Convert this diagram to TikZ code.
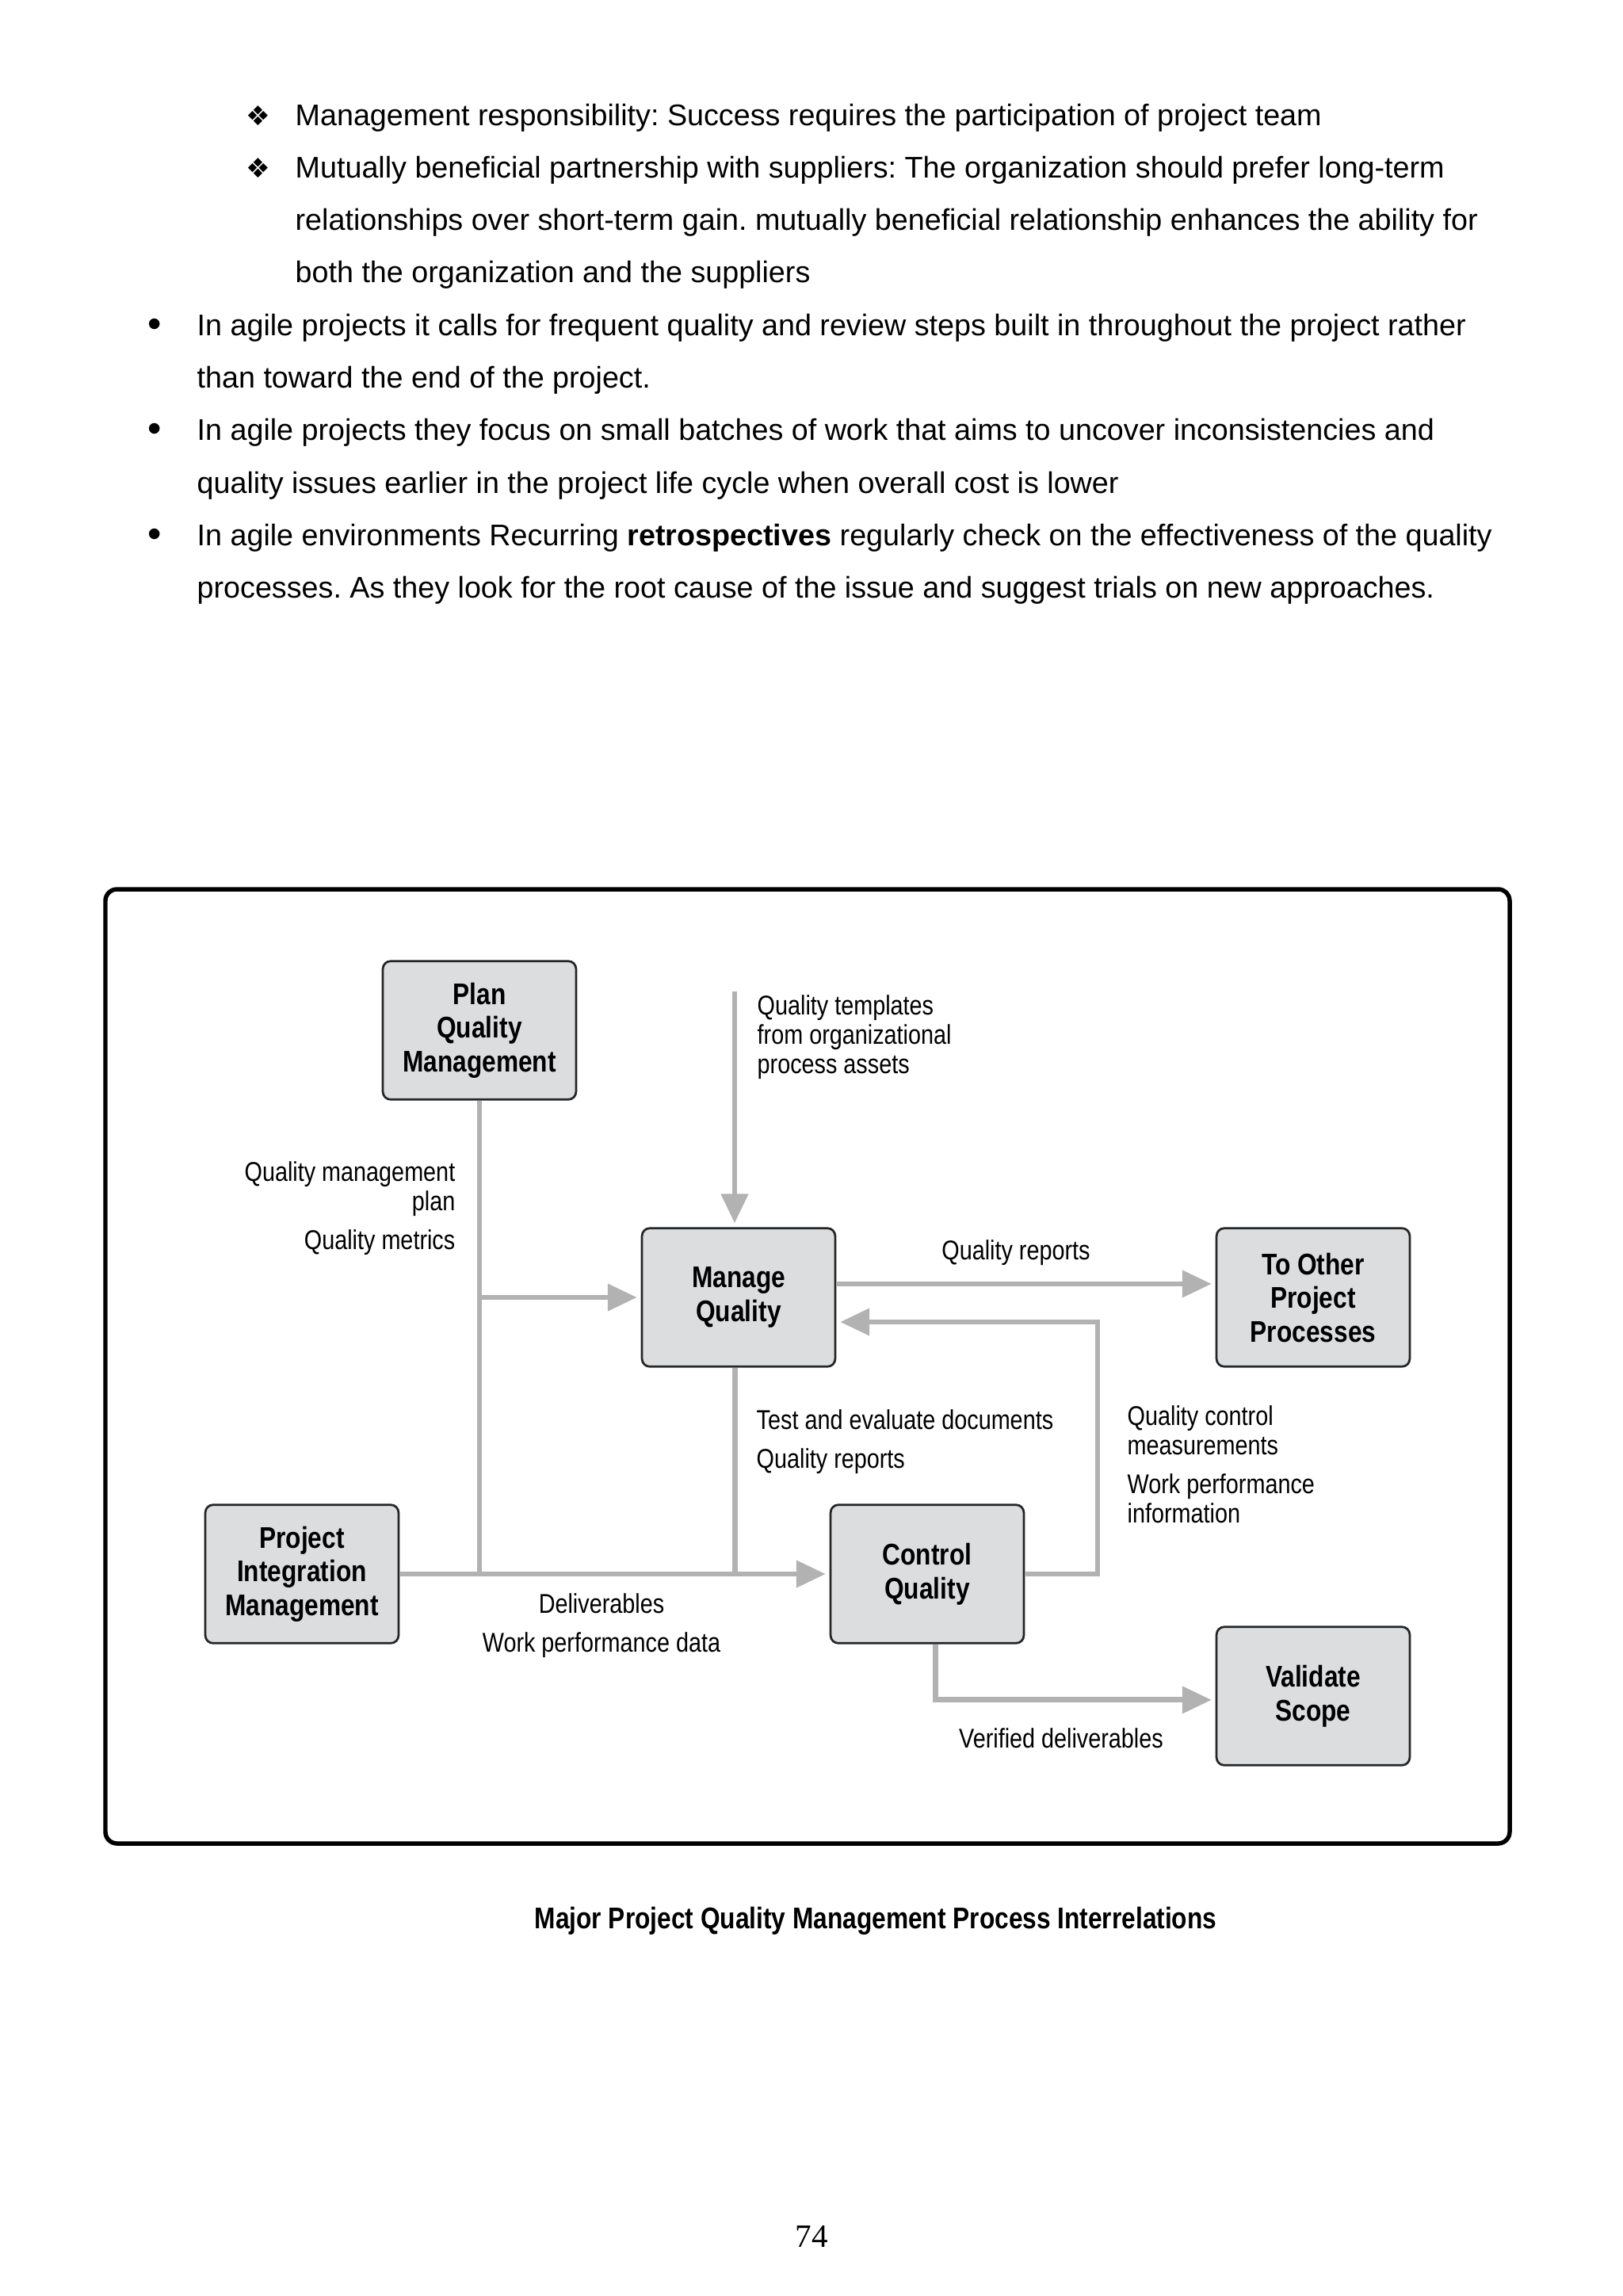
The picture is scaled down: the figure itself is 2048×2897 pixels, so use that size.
\documentclass[tikz,border=0pt]{standalone}
\usepackage{fontspec}
\setmainfont{Liberation Sans}
\newfontfamily\diagfont[FakeStretch=0.84]{Liberation Sans}
\newfontfamily\symfont{DejaVu Sans}
\newfontfamily\numfont{Liberation Serif}
\usetikzlibrary{arrows.meta}
\definecolor{boxgray}{RGB}{220,221,223}
\definecolor{linegray}{RGB}{178,178,178}
\frenchspacing

\begin{document}
\begin{tikzpicture} [x=0.010254cm, y=-0.010254cm,
        every node/.style={inner sep=0pt},
        process/.style={draw=black!85, line width=0.8pt, fill=boxgray, rounded corners=0.1cm,
            minimum width=2.5cm, minimum height=1.79cm, align=center,
            font=\diagfont\bfseries\fontsize{11}{12.4}\selectfont},
        note/.style={font=\diagfont\fontsize{10}{10.8}\selectfont},
        body/.style={anchor=base west, font=\fontsize{11}{13}\selectfont},
        dot/.style={anchor=base, font=\fontsize{14.5}{16}\selectfont},
        flow/.style={draw=linegray, line width=2pt},
        arrow/.style={flow, -{Triangle[length=0.38cm, width=0.34cm]}, shorten >=0.05cm}]
            \useasboundingbox (0,0) rectangle (2048,2897);

            \node[anchor=base, font=\symfont\fontsize{10}{12}\selectfont] (d0) at (326,158) {❖};
            \node[body] (l0) at (372,158)   {Management responsibility: Success requires the participation of project team};
            \node[anchor=base, font=\symfont\fontsize{10}{12}\selectfont] (d1) at (326,224.3) {❖};
            \node[body] (l1) at (372,224.3) {Mutually beneficial partnership with suppliers: The organization should prefer long-term};
            \node[body] (l2) at (372,290.6) {relationships over short-term gain. mutually beneficial relationship enhances the ability for};
            \node[body] (l3) at (372,356.9) {both the organization and the suppliers};
            \node[dot] (b0) at (195,425) {•};
            \node[body] (l4) at (248,423.2) {In agile projects it calls for frequent quality and review steps built in throughout the project rather};
            \node[body] (l5) at (248,489.5) {than toward the end of the project.};
            \node[dot] (b1) at (195,557.6) {•};
            \node[body] (l6) at (248,555.8) {In agile projects they focus on small batches of work that aims to uncover inconsistencies and};
            \node[body] (l7) at (248,622.1) {quality issues earlier in the project life cycle when overall cost is lower};
            \node[dot] (b2) at (195,690.2) {•};
            \node[body] (l8) at (248,688.4) {In agile environments Recurring \textbf{retrospectives} regularly check on the effectiveness of the quality};
            \node[body] (l9) at (248,754.7) {processes. As they look for the root cause of the issue and suggest trials on new approaches.};

            \draw[line width=1.6pt, rounded corners=0.15cm] (133,1122) rectangle (1905,2326);

            \node[process] (pqm)  at (605,1300)  {Plan\\Quality\\Management};
            \node[process] (mq)   at (932,1637)  {Manage\\Quality};
            \node[process] (topp) at (1657,1637) {To Other\\Project\\Processes};
            \node[process] (pim)  at (381,1986)  {Project\\Integration\\Management};
            \node[process] (cq)   at (1170,1986) {Control\\Quality};
            \node[process] (vs)   at (1657,2140) {Validate\\Scope};

            \coordinate (tmpl) at (927,1251);
            \coordinate (fb)   at (1385,1668);

            \draw[flow]  (pqm.south) -- (pqm.south |- pim.east);
            \draw[arrow] (pqm.south |- mq.west) -- (mq.west);
            \draw[arrow] (tmpl) -- (tmpl |- mq.north);
            \draw[arrow] ([yshift=0.175cm]mq.east) -- ([yshift=0.175cm]topp.west);
            \draw[arrow] (cq.east) -| (fb) -- (fb -| mq.east);
            \draw[flow]  ([xshift=-0.05cm]mq.south) -- ([xshift=-0.05cm]mq.south |- cq.west);
            \draw[arrow] (pim.east) -- (cq.west);
            \draw[arrow] ([xshift=0.11cm]cq.south) |- ([yshift=-0.05cm]vs.west);

            \node[note, anchor=north east, align=right] (qmp) at (575,1465) {Quality management\\plan\\[3.5pt]Quality metrics};
            \node[note, anchor=north west, align=left]  (qtl) at (955,1255) {Quality templates\\from organizational\\process assets};
            \node[note, anchor=north]                   (qr)  at (1282,1564) {Quality reports};
            \node[note, anchor=north west, align=left]  (ted) at (954,1778) {Test and evaluate documents\\[3.5pt]Quality reports};
            \node[note, anchor=north west, align=left]  (qcm) at (1422,1773) {Quality control\\measurements\\[3.5pt]Work performance\\information};
            \node[note, anchor=north, align=center]     (del) at (759,2010) {Deliverables\\[3.5pt]Work performance data};
            \node[note, anchor=north]                   (vd)  at (1339,2180) {Verified deliverables};

            \node[anchor=base, font=\diagfont\bfseries\fontsize{11}{13}\selectfont] (cap) at (1105,2433) {Major Project Quality Management Process Interrelations};
            \node[anchor=base, font=\numfont\fontsize{12}{14}\selectfont] (pg) at (1024,2835) {74};
        \end{tikzpicture}
\end{document}
